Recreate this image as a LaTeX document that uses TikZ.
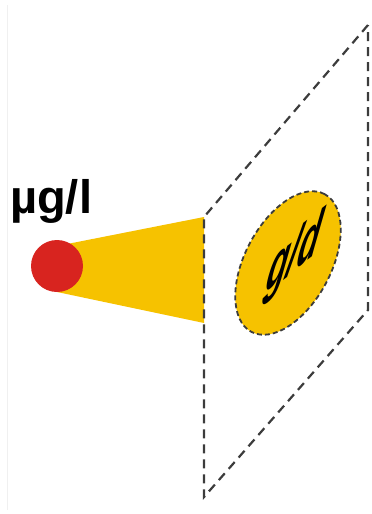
\documentclass[tikz,border=0pt]{standalone}
\usepackage{fontspec}
\setmainfont{Liberation Sans}
\usepackage{tikz}
\usetikzlibrary{shapes.geometric}
\definecolor{flux}{HTML}{F6C200}
\definecolor{source}{HTML}{D8241F}
\definecolor{edge}{HTML}{3C3C3C}

\begin{document}
\begin{tikzpicture}[x=1pt, y=-1pt,
  every node/.style={inner sep=0pt},
  planeline/.style={draw=edge, line width=2.2pt, dash pattern=on 9pt off 6pt},
  spotline/.style={draw=edge, line width=1.8pt, dash pattern=on 5pt off 3pt},
  bigtext/.style={font=\fontsize{47}{47}\selectfont\bfseries}]
\useasboundingbox (0,0) rectangle (372,514);
\draw[black!6, line width=1pt] (7,5) -- (7,510);
% corners of the receiving plane
\coordinate (LT) at (204,217);
\coordinate (LB) at (204,497);
\coordinate (RT) at (368,25);
\coordinate (RB) at (368,310);
\coordinate (coneT) at (57,246);
\coordinate (coneB) at (204,323);
\node[bigtext, anchor=base west] (conc) at (10,213) {µg/l};
\fill[flux] (coneT) -- (LT) -- (coneB) -- (57,292) -- cycle;
\node[circle, fill=source, minimum size=52pt] (src) at (57,266) {};
\draw[planeline] (RT) -- (LT) -- (LB) -- (RB) -- cycle;
\node[ellipse, fill=flux, spotline, minimum width=156pt, minimum height=86pt, rotate=62] (spot) at (288,263) {};
% text lies on the tilted plane
\node[font=\fontsize{44}{44}\selectfont\bfseries, cm={0.788,0.616,0.469,1.634,(0,0)}] (load) at (294,257) {g/d};
\end{tikzpicture}
\end{document}
